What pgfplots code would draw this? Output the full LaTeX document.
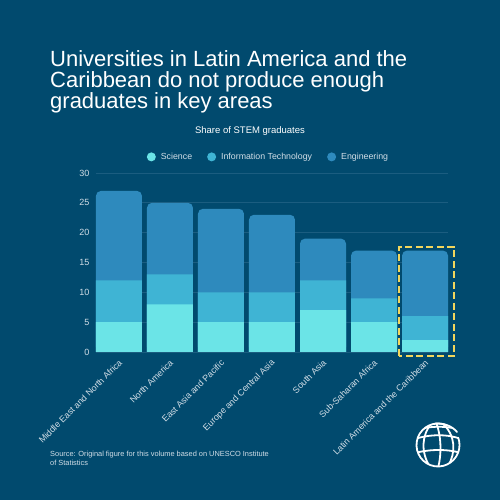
\documentclass[border=0pt]{standalone}
\usepackage{pgfplots}
\pgfplotsset{compat=1.18}
\usepackage{pgfplotstable}
\usepackage{fontspec}
\setmainfont{Liberation Sans}

\definecolor{bg}{HTML}{014A6E}
\definecolor{gridc}{HTML}{1B5D80}
\definecolor{tickc}{HTML}{D2DEE7}
\definecolor{scic}{HTML}{6BE4E7}
\definecolor{itc}{HTML}{3FB4D4}
\definecolor{engc}{HTML}{2E8ABD}
\definecolor{yel}{HTML}{F3D65C}

% Share of STEM graduates by field (percent)
\pgfplotstableread{
idx sci it eng
0   5   7  15
1   8   5  12
2   5   5  14
3   5   5  13
4   7   5   7
5   5   4   8
6   2   4  11
}\stemdata

\begin{document}
\begin{tikzpicture}[x=1pt,y=1pt]
\useasboundingbox (0,0) rectangle (500,500);
\fill[bg] (0,0) rectangle (500,500);

% Title
\node[anchor=base west, inner sep=0pt, text=white, font=\fontsize{22}{22}\selectfont] at (50,433.3) {Universities in Latin America and the};
\node[anchor=base west, inner sep=0pt, text=white, font=\fontsize{22}{22}\selectfont] at (50,412.3) {Caribbean do not produce enough};
\node[anchor=base west, inner sep=0pt, text=white, font=\fontsize{22}{22}\selectfont] at (50,391.3) {graduates in key areas};

% Subtitle
\node[anchor=base, inner sep=0pt, text=white, font=\fontsize{9.5}{9.5}\selectfont] at (250,366) {Share of STEM graduates};

\begin{axis}[
  at={(96pt,148pt)}, anchor=south west,
  scale only axis, width=352pt, height=179pt,
  xmin=-0.45, xmax=6.45, ymin=0, ymax=30,
  axis line style={draw=none},
  major tick length=0pt,
  ytick={0,5,...,30},
  xtick={0,...,6},
  xticklabels={Middle East and North Africa, North America, East Asia and Pacific, Europe and Central Asia, South Asia, Sub-Saharan Africa, Latin America and the Caribbean},
  ymajorgrids,
  grid style={draw=gridc, line width=0.9pt},
  yticklabel style={font=\fontsize{9}{9}\selectfont, text=tickc, xshift=-3pt},
  xticklabel style={xshift=4pt, yshift=-7pt, rotate=45, anchor=east,
    font=\fontsize{8.9}{8.9}\selectfont, text=tickc},
  /pgf/number format/assume math mode=true,
  clip=false,
  legend columns=3,
  legend style={at={(0.49,1.09)}, anchor=center, draw=none, fill=none,
    text=tickc, font=\fontsize{8.8}{8.8}\selectfont,
    /tikz/every even column/.append style={column sep=13pt}},
  legend image code/.code={\fill[#1] (0pt,0pt) circle (4.5pt); \path (7.5pt,0pt);},
]
\addlegendimage{fill=scic, draw=none}
\addlegendimage{fill=itc, draw=none}
\addlegendimage{fill=engc, draw=none}

% Engineering on top of the stack (full bar, rounded top)
\addplot[ybar, bar width=46pt, bar shift=0pt, fill=engc, draw=none, rounded corners=5pt]
  table[x=idx, y expr={\thisrow{sci}+\thisrow{it}+\thisrow{eng}}] {\stemdata};
% Information technology
\addplot[ybar, bar width=46pt, bar shift=0pt, fill=itc, draw=none]
  table[x=idx, y expr={\thisrow{sci}+\thisrow{it}}] {\stemdata};
% Science
\addplot[ybar, bar width=46pt, bar shift=0pt, fill=scic, draw=none]
  table[x=idx, y=sci] {\stemdata};

\legend{Science, Information Technology, Engineering}

% Highlight for Latin America and the Caribbean
\draw[yel, line width=2.3pt, dash pattern=on 7pt off 3.5pt]
  (axis cs:5.49,-0.67) rectangle (axis cs:6.57,17.64);
\end{axis}

% Source note
\node[anchor=base west, inner sep=0pt, text=tickc, font=\fontsize{7.4}{7.4}\selectfont] at (50,43.5) {Source: Original figure for this volume based on UNESCO Institute};
\node[anchor=base west, inner sep=0pt, text=tickc, font=\fontsize{7.4}{7.4}\selectfont] at (50,34) {of Statistics};

% Globe emblem
\begin{scope}[shift={(438,55)}, white, line width=1.8pt, line cap=round]
  \draw (70:21.5) arc[start angle=70, end angle=380, radius=21.5];
  \draw (-3,21.5) .. controls (6,22) and (14,19) .. (19,13);
  \begin{scope}
    \clip (0,0) circle (21.5);
    % meridians
    \draw (-2,23) .. controls (3,10) and (4,-8) .. (0,-23);
    \draw (-6,22) .. controls (-17,10) and (-17,-8) .. (-8,-22);
    \draw (4,22) .. controls (18,10) and (18,-8) .. (10,-21);
    % parallels
    \draw (-23,6) .. controls (-8,11) and (10,11) .. (23,6);
    \draw (-23,-8) .. controls (-8,-4) and (10,-4) .. (23,-8);
    \draw (-18,16) .. controls (-6,19) and (8,19) .. (18,16);
  \end{scope}
\end{scope}
\end{tikzpicture}
\end{document}
